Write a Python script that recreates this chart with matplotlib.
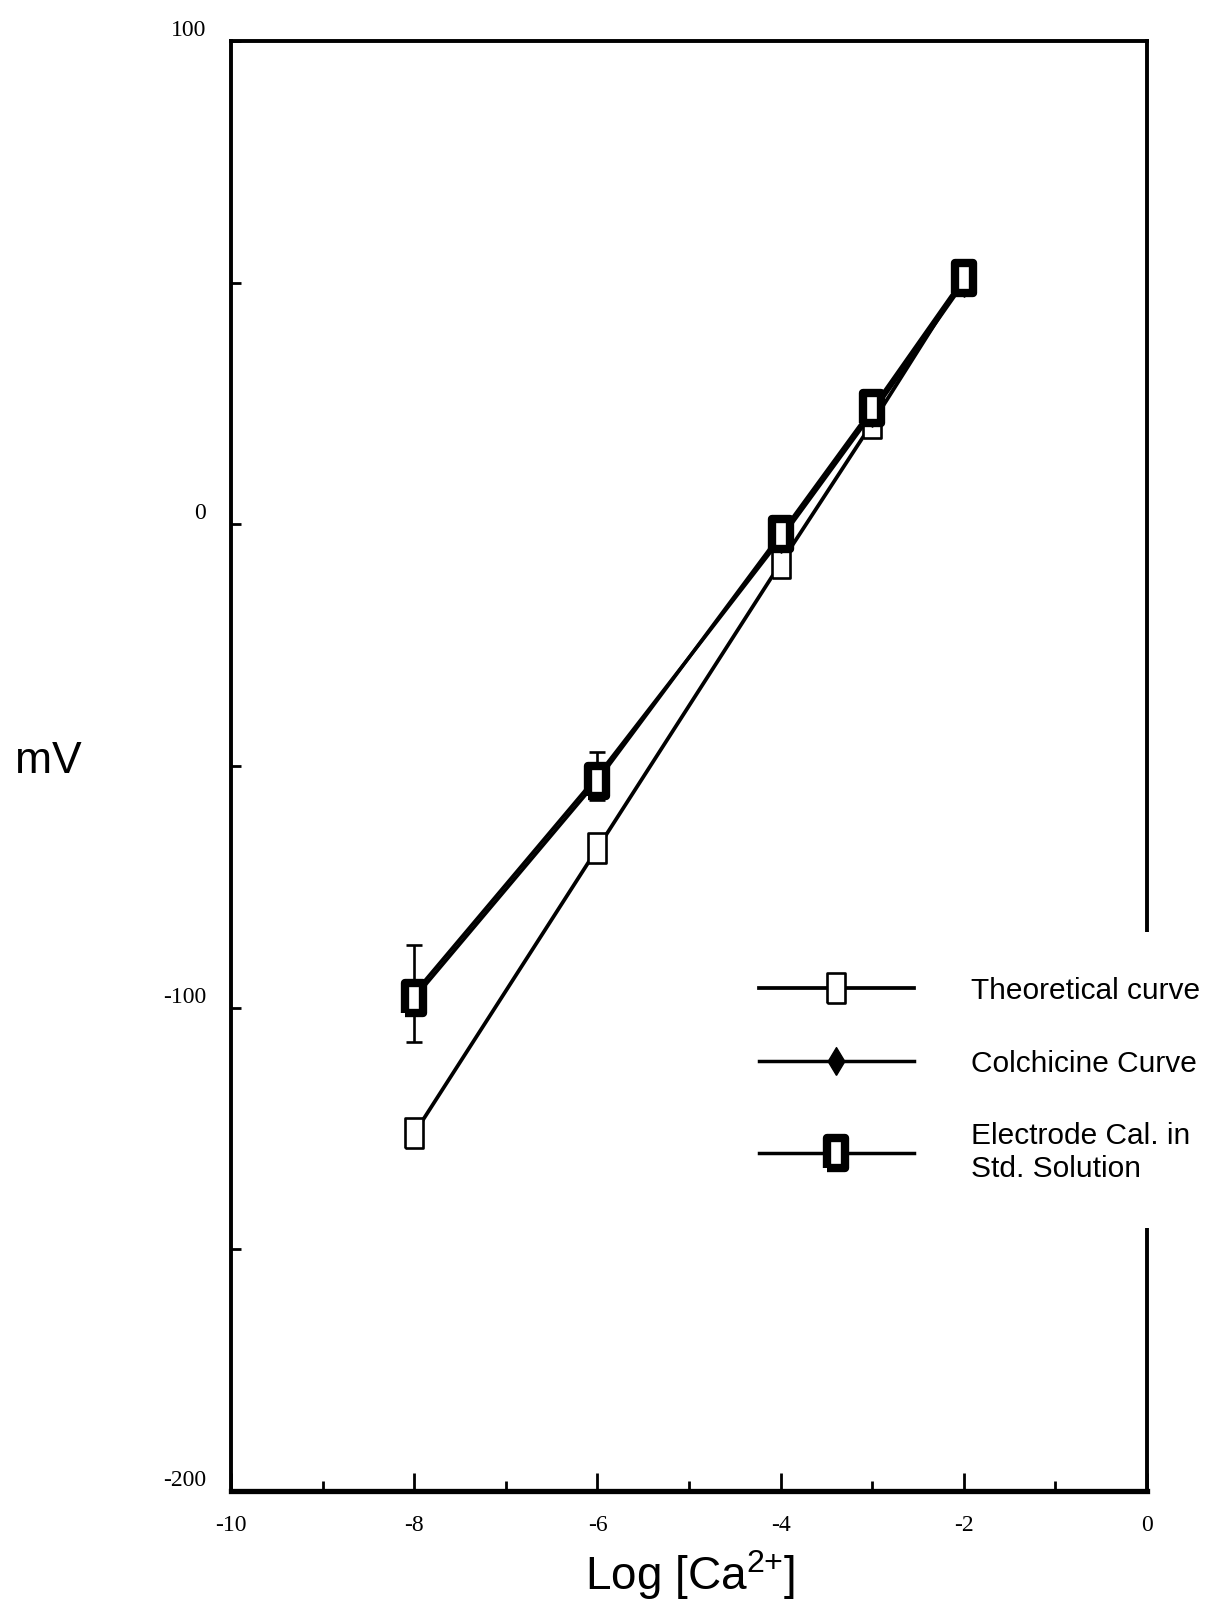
import matplotlib
matplotlib.use('Agg')
import matplotlib.pyplot as plt
from matplotlib.ticker import MultipleLocator

# data
log_ca = [-8, -6, -4, -3, -2]
theoretical = [-126, -67, -8, 21, 51]
colchicine = [-97, -52, -3, 23, 50]
colchicine_err = [10, 5, 0, 0, 0]
electrode = [-98, -53, -2, 24, 51]

x_ticks = [-10, -8, -6, -4, -2, 0]
y_ticks = [-200, -100, 0, 100]

plt.rcParams['font.family'] = ['Liberation Sans', 'DejaVu Sans']
plt.rcParams['axes.unicode_minus'] = False
plt.rcParams['mathtext.fontset'] = 'custom'
plt.rcParams['mathtext.rm'] = 'Liberation Sans'

# markers in the scan are taller than wide
rect = [(-0.62, -1), (0.62, -1), (0.62, 1), (-0.62, 1), (-0.62, -1)]
diamond = [(0, -1), (0.6, 0), (0, 1), (-0.6, 0), (0, -1)]

fig = plt.figure(figsize=(12.1, 16.2), dpi=100)
ax = fig.add_axes([0.191, 0.0796, 0.757, 0.895])

h1, = ax.plot(log_ca, theoretical, color='black', lw=2.7, marker=rect, ms=21,
              mfc='white', mec='black', mew=1.9, label='Theoretical curve')
h2, = ax.plot(log_ca, colchicine, color='black', lw=2.5, marker=diamond, ms=20,
              mfc='black', mec='black', label='Colchicine Curve')
ax.errorbar(log_ca, colchicine, yerr=colchicine_err, fmt='none', ecolor='black',
            elinewidth=1.9, capsize=6, capthick=1.9)
h3, = ax.plot(log_ca, electrode, color='black', lw=2.5, marker=rect, ms=22,
              mfc='white', mec='black', mew=6,
              label='Electrode Cal. in\nStd. Solution')

ax.set_xlim(-10, 0)
ax.set_ylim(-200, 100)
ax.set_xticks(x_ticks)
ax.set_yticks(y_ticks)
ax.xaxis.set_minor_locator(MultipleLocator(1))
ax.yaxis.set_minor_locator(MultipleLocator(50))

ax.tick_params(axis='x', which='major', direction='in', length=13, width=2, pad=17)
ax.tick_params(axis='x', which='minor', direction='in', length=7, width=2)
ax.tick_params(axis='y', which='both', direction='in', length=7, width=2, pad=18)
for lab in ax.get_xticklabels() + ax.get_yticklabels():
    lab.set_family('Liberation Serif')
    lab.set_fontsize(17)
for lab in ax.get_yticklabels():
    lab.set_va('bottom')

for side in ['left', 'right', 'top']:
    ax.spines[side].set_linewidth(2.8)
ax.spines['bottom'].set_linewidth(3.8)

ax.set_ylabel('mV', rotation=0, fontsize=32, va='center', ha='center')
ax.yaxis.set_label_coords(-0.2, 0.503)
ax.set_xlabel(r'Log [Ca$^{2{+}}$]', fontsize=33, va='center')
ax.xaxis.set_label_coords(0.501, -0.058)

ax.legend(handles=[h1, h2, h3], loc='upper left', bbox_to_anchor=(0.527, 0.3855),
          fontsize=21.5, handlelength=5.2, handletextpad=1.9, labelspacing=1.5,
          borderpad=1.5, borderaxespad=0, frameon=True, fancybox=False,
          edgecolor='none', facecolor='white', framealpha=1)

plt.savefig('out.png', dpi=100)
